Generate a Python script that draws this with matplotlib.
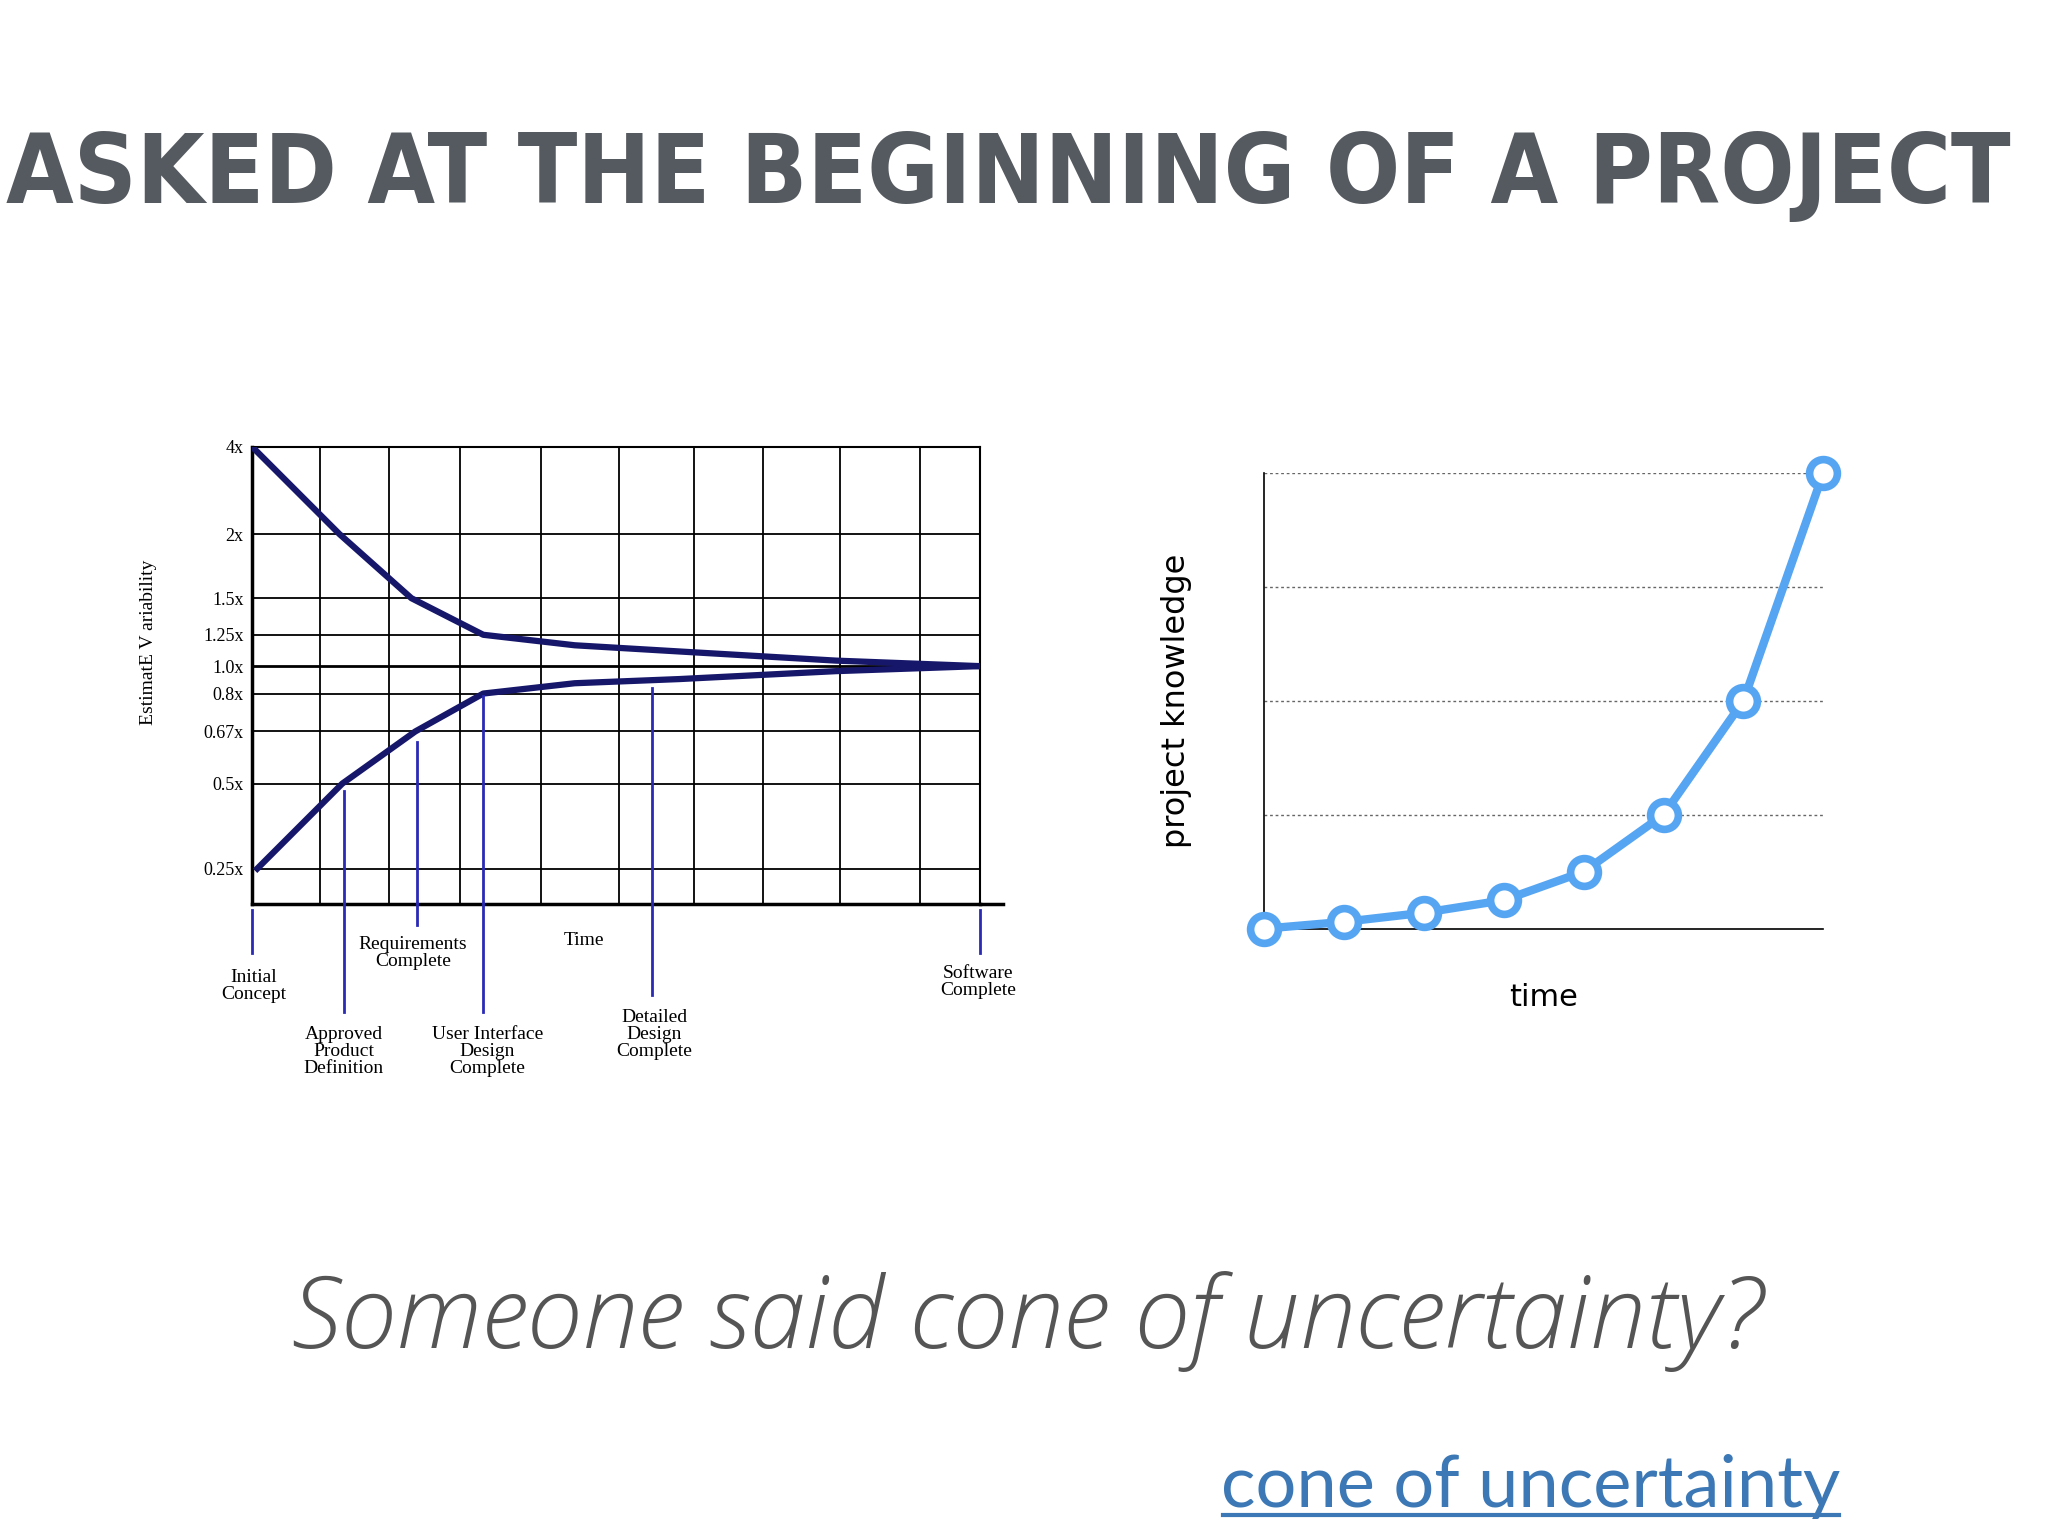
import numpy as np
import matplotlib
matplotlib.use("Agg")
import matplotlib.pyplot as plt

W, H = 1568, 1176
def fx(p): return p / W
def fy(p): return 1 - p / H

# ---- data: cone of uncertainty ----
y_ticks = [0.25, 0.5, 0.67, 0.8, 1.0, 1.25, 1.5, 2, 4]
y_tick_labels = ["0.25x", "0.5x", "0.67x", "0.8x", "1.0x", "1.25x", "1.5x", "2x", "4x"]
time_grid = [0, 52, 105, 159, 221, 281, 338, 391, 450, 511, 557]
time_pts = [0, 67, 122, 177, 247, 327, 447, 557]
upper = [4, 2, 1.5, 1.25, 1.16, 1.11, 1.04, 1.0]
lower_time = [4, 69, 125, 177, 247, 327, 447, 557]
lower = [0.25, 0.5, 0.67, 0.8, 0.87, 0.9, 0.96, 1.0]
milestones = ["Initial\nConcept", "Approved\nProduct\nDefinition", "Requirements\nComplete",
              "User Interface\nDesign\nComplete", "Detailed\nDesign\nComplete", "Software\nComplete"]
milestone_time = [0, 70, 126, 177, 306, 557]
milestone_top = [0.2, 0.47, 0.63, 0.79, 0.84, 0.2]

# ---- data: project knowledge ----
k_time = [0, 1, 2, 3, 4, 5, 6, 7]
knowledge = [0, 0.06, 0.14, 0.25, 0.5, 1.0, 2.0, 4.0]

fig = plt.figure(figsize=(20.48, 15.36), dpi=100)
fig.patch.set_facecolor("white")

fig.text(fx(772), fy(135), "ASKED AT THE BEGINNING OF A PROJECT", ha="center", va="center",
         fontsize=70, fontweight="bold", family="DejaVu Sans", fontstretch="condensed",
         color="#555a60")

# left chart
pm = [0.2, 0.25, 0.5, 0.67, 0.8, 1.0, 1.25, 1.5, 2, 4]
pp = np.array([692, 665, 600, 560, 531, 510, 486, 458, 409, 342], float)
lm = np.log(pm)
def fwd(v):
    v = np.clip(np.asarray(v, float), 1e-6, None)
    return -np.interp(np.log(v), lm, pp)
def inv(y):
    return np.exp(np.interp(-np.asarray(y, float), -pp, lm))

ax = fig.add_axes([fx(193), fy(692), fx(750) - fx(193), (692 - 342) / H])
ax.set_yscale("function", functions=(fwd, inv))
ax.set_ylim(0.2, 4)
ax.set_xlim(0, 557)
for t in y_ticks:
    ax.axhline(t, color="black", lw=1.3 if t != 1.0 else 2, zorder=1)
for t in time_grid:
    ax.axvline(t, color="black", lw=1.3, zorder=1)
ax.plot(time_pts, upper, color="#16166b", lw=4.5, zorder=3)
ax.plot(lower_time, lower, color="#16166b", lw=4.5, zorder=3)
for t, top in zip(milestone_time, milestone_top):
    ax.plot([t, t], [top, 0.2], color="#2a2ab5", lw=2, zorder=4)
ax.set_yticks(y_ticks)
ax.set_yticklabels(y_tick_labels, family="Liberation Serif", fontsize=13)
ax.set_xticks([])
ax.tick_params(axis="y", length=0, pad=6)
for s in ax.spines.values():
    s.set_color("black"); s.set_linewidth(1.5)
ax.spines["bottom"].set_linewidth(2.5)
ax.spines["left"].set_linewidth(2.5)

conn = [(193, 697, 730), (263, 692, 775), (319, 692, 708), (370, 692, 775), (499, 692, 762), (750, 697, 730)]
for (x, y0, y1) in conn:
    fig.add_artist(plt.Line2D([fx(x), fx(x)], [fy(y0), fy(y1)], color="#2a2ab5", lw=2))
lab_pos = [(194, 755), (263, 805), (316, 730), (373, 805), (501, 792), (749, 752)]
for lab, (x, y) in zip(milestones, lab_pos):
    fig.text(fx(x), fy(y), lab, ha="center", va="center", family="Liberation Serif",
             fontsize=14, linespacing=1.0)
fig.text(fx(447), fy(720), "Time", ha="center", va="center", family="Liberation Serif", fontsize=14)
fig.add_artist(plt.Line2D([fx(750), fx(768)], [fy(692), fy(692)], color="black", lw=2.5))
fig.text(fx(114), fy(492), "EstimatE V ariability", rotation=90, ha="center", va="center",
         family="Liberation Serif", fontsize=14)

# right chart
ax2 = fig.add_axes([fx(968), fy(711), fx(1396) - fx(968), (711 - 362) / H])
ax2.set_xlim(0, 7)
ax2.set_ylim(0, 4)
for g in [1, 2, 3, 4]:
    ax2.axhline(g, color="#666666", lw=1, ls=(0, (2, 2)), zorder=1)
ax2.plot(k_time, knowledge, color="#56a5f2", lw=6, marker="o", ms=20, mfc="white",
         mec="#56a5f2", mew=5.5, clip_on=False, zorder=3)
ax2.spines["top"].set_visible(False)
ax2.spines["right"].set_visible(False)
ax2.spines["left"].set_linewidth(1.2)
ax2.spines["bottom"].set_linewidth(1.2)
ax2.set_xticks([]); ax2.set_yticks([])
ax2.set_xlabel("time", fontsize=22, family="DejaVu Sans")
ax2.xaxis.set_label_coords(0.5, -0.12)
ax2.set_ylabel("project knowledge", fontsize=23, family="DejaVu Sans")
ax2.yaxis.set_label_coords(-0.13, 0.5)

fig.text(fx(786), fy(1012), "Someone said cone of uncertainty?", ha="center", va="center",
         family="Open Sans", style="italic", fontweight="light", fontsize=72, color="#555555")
fig.text(fx(1172), fy(1138), "cone of uncertainty", ha="center", va="center",
         family="Lato", fontsize=52, color="#3b78b5")
fig.add_artist(plt.Line2D([fx(936), fx(1408)], [fy(1160), fy(1160)], color="#3b78b5", lw=3))

fig.savefig("out.png", dpi=100)
